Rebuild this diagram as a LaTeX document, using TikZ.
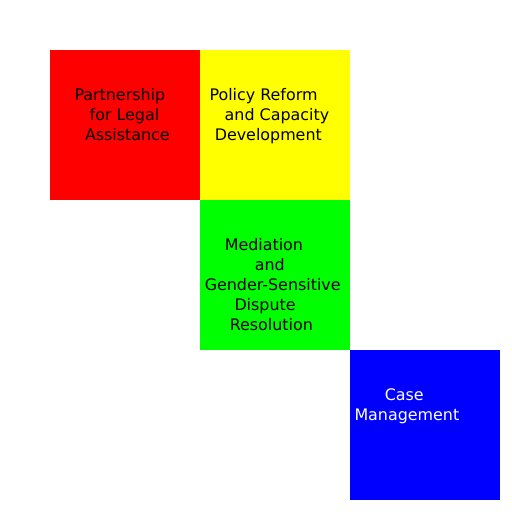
\documentclass[tikz,border=0pt]{standalone}
\usepackage{fontspec}
\setmainfont{DejaVu Sans}
\begin{document}
\begin{tikzpicture}[x=1pt,y=-1pt,
  sq/.style={draw=none,minimum size=150pt,inner sep=0pt,outer sep=0pt,anchor=north west},
  ln/.style={anchor=base west,inner sep=0pt,outer sep=0pt,font=\fontsize{15.9pt}{18pt}\selectfont}]
\useasboundingbox (0,0) rectangle (512,512);
\node[sq,fill={rgb,255:red,255;green,0;blue,0}] (red) at (50,50) {};
\node[sq,fill={rgb,255:red,255;green,255;blue,0}] (yellow) at (200,50) {};
\node[sq,fill={rgb,255:red,0;green,255;blue,0}] (green) at (200,200) {};
\node[sq,fill={rgb,255:red,0;green,0;blue,255}] (blue) at (350,350) {};
% red
\node[ln] (r1) at (74.5,100) {Partnership};
\node[ln] (r2) at (89.7,120) {for Legal};
\node[ln] (r3) at (85,140) {Assistance};
% yellow
\node[ln] (y1) at (209.5,100) {Policy Reform};
\node[ln] (y2) at (224.7,120) {and Capacity};
\node[ln] (y3) at (214.8,140) {Development};
% green
\node[ln] (g1) at (224.8,250) {Mediation};
\node[ln] (g2) at (254.8,270) {and};
\node[ln] (g3) at (204.8,290) {Gender-Sensitive};
\node[ln] (g4) at (234.5,310) {Dispute};
\node[ln] (g5) at (229.8,330) {Resolution};
% blue
\node[ln,text=white] (b1) at (384.8,400) {Case};
\node[ln,text=white] (b2) at (354.5,420) {Management};
\end{tikzpicture}
\end{document}
